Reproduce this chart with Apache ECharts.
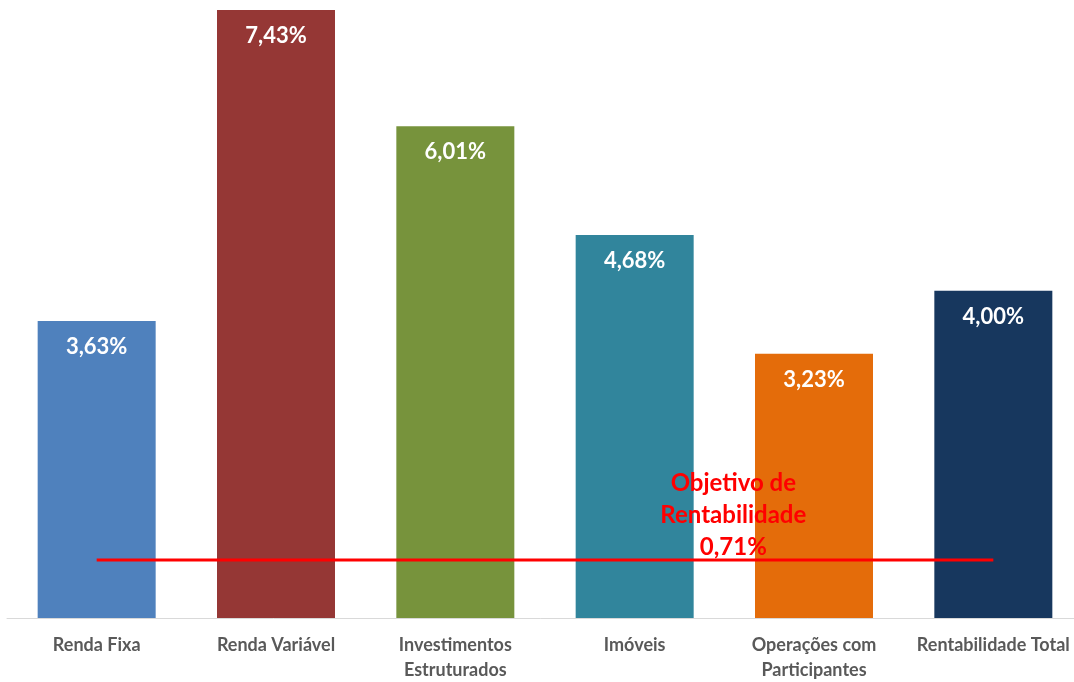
<!DOCTYPE html>
<html><head><meta charset="utf-8">
<script src="https://cdn.jsdelivr.net/npm/echarts@6/dist/echarts.min.js"></script>
<style>html,body{margin:0;padding:0;background:#fff}#c{width:1074px;height:682px}</style>
</head><body><div id="c"></div>
<script>
const categories = ['Renda Fixa', 'Renda Variável', 'Investimentos\nEstruturados', 'Imóveis', 'Operações com\nParticipantes', 'Rentabilidade Total'];
const values = [3.63, 7.43, 6.01, 4.68, 3.23, 4.00];
const colors = ['#4F81BD', '#953735', '#77933C', '#31859C', '#E46C0A', '#17375E'];
const targetValue = 0.71;
const targetLabel = 'Objetivo de\nRentabilidade\n0,71%';
const FONT = 'Lato';
const fmt = v => v.toFixed(2).replace('.', ',') + '%';

const chart = echarts.init(document.getElementById('c'));
chart.setOption({
  animation: false,
  grid: { left: 7, width: 1076, top: 10, bottom: 64, outerBoundsMode: 'none', containLabel: false },
  xAxis: {
    type: 'category', data: categories,
    axisLine: { lineStyle: { color: '#D9D9D9', width: 1 } },
    axisTick: { show: false },
    axisLabel: { color: '#595959', fontFamily: FONT, fontWeight: 'bold', fontSize: 18, lineHeight: 25, margin: 15, interval: 0 }
  },
  yAxis: { type: 'value', min: 0, max: 7.43, show: false, splitLine: { show: false } },
  series: [
    {
      type: 'bar', barWidth: 118,
      data: values.map((v, i) => ({ value: v, itemStyle: { color: colors[i] } })),
      label: { show: true, position: 'insideTop', distance: 15, color: '#fff', fontFamily: FONT, fontWeight: 'bold', fontSize: 22, formatter: p => fmt(p.value) }
    },
    {
      type: 'line', data: categories.map(() => targetValue), symbol: 'none',
      lineStyle: { color: '#FF0000', width: 3 }, z: 5
    }
  ]
});
const p3 = chart.convertToPixel({ seriesIndex: 1 }, [3, targetValue]);
const p4 = chart.convertToPixel({ seriesIndex: 1 }, [4, targetValue]);
chart.setOption({
  graphic: [{
    type: 'text', z: 10,
    x: (p3[0] + p4[0]) / 2 + 9, y: p3[1] + 3,
    style: { text: targetLabel, fill: '#FF0000', font: 'bold 24px ' + FONT, lineHeight: 32, align: 'center', verticalAlign: 'bottom' }
  }]
});
</script></body></html>
